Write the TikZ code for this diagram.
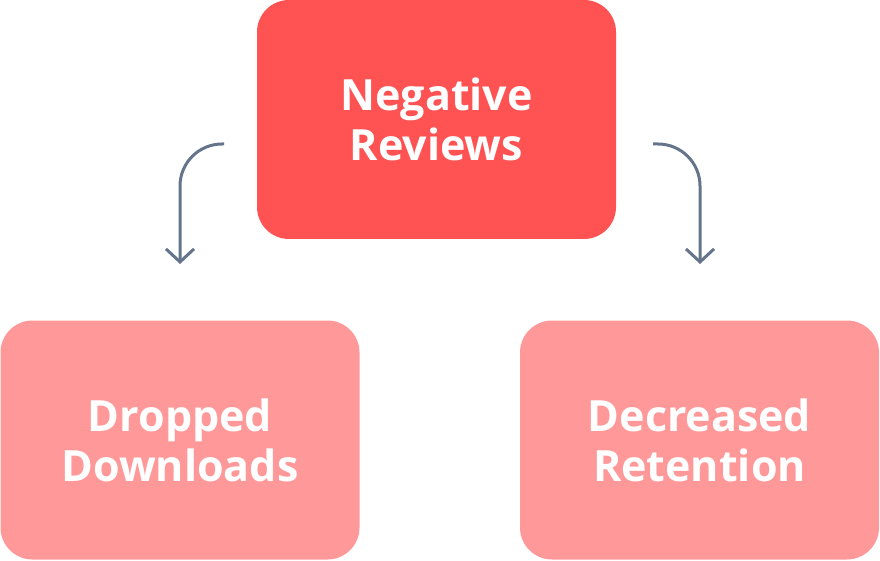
\documentclass[tikz,border=0pt]{standalone}
\usepackage{fontspec}
\setmainfont{Open Sans}
\usetikzlibrary{arrows.meta}
\definecolor{topred}{HTML}{FF5252}
\definecolor{lightred}{HTML}{FF9999}
\definecolor{slate}{HTML}{64748B}
\tikzset{
  box/.style={rounded corners=32pt, minimum width=359pt, minimum height=239pt, inner sep=0pt, text=white, align=center, font=\fontsize{43}{50}\selectfont\bfseries},
  conn/.style={draw=slate, line width=3pt, -{Straight Barb[length=13pt,width=28pt,line width=3pt]}, rounded corners=42pt}
}
\begin{document}
\begin{tikzpicture}[x=1pt,y=-1pt]
\useasboundingbox (0,0) rectangle (880,561);
\node[box, fill=topred] (neg) at (436.5,119.5) {Negative\\Reviews};
\node[box, fill=lightred] (drop) at (180,440) {Dropped\\Downloads};
\node[box, fill=lightred] (dec) at (699.5,440) {Decreased\\Retention};
\coordinate (ls) at (224,144);
\coordinate (le) at (180,264);
\coordinate (rs) at (653,144);
\coordinate (re) at (700,264);
\draw[conn] (ls) -| (le);
\draw[conn] (rs) -| (re);
\end{tikzpicture}
\end{document}
